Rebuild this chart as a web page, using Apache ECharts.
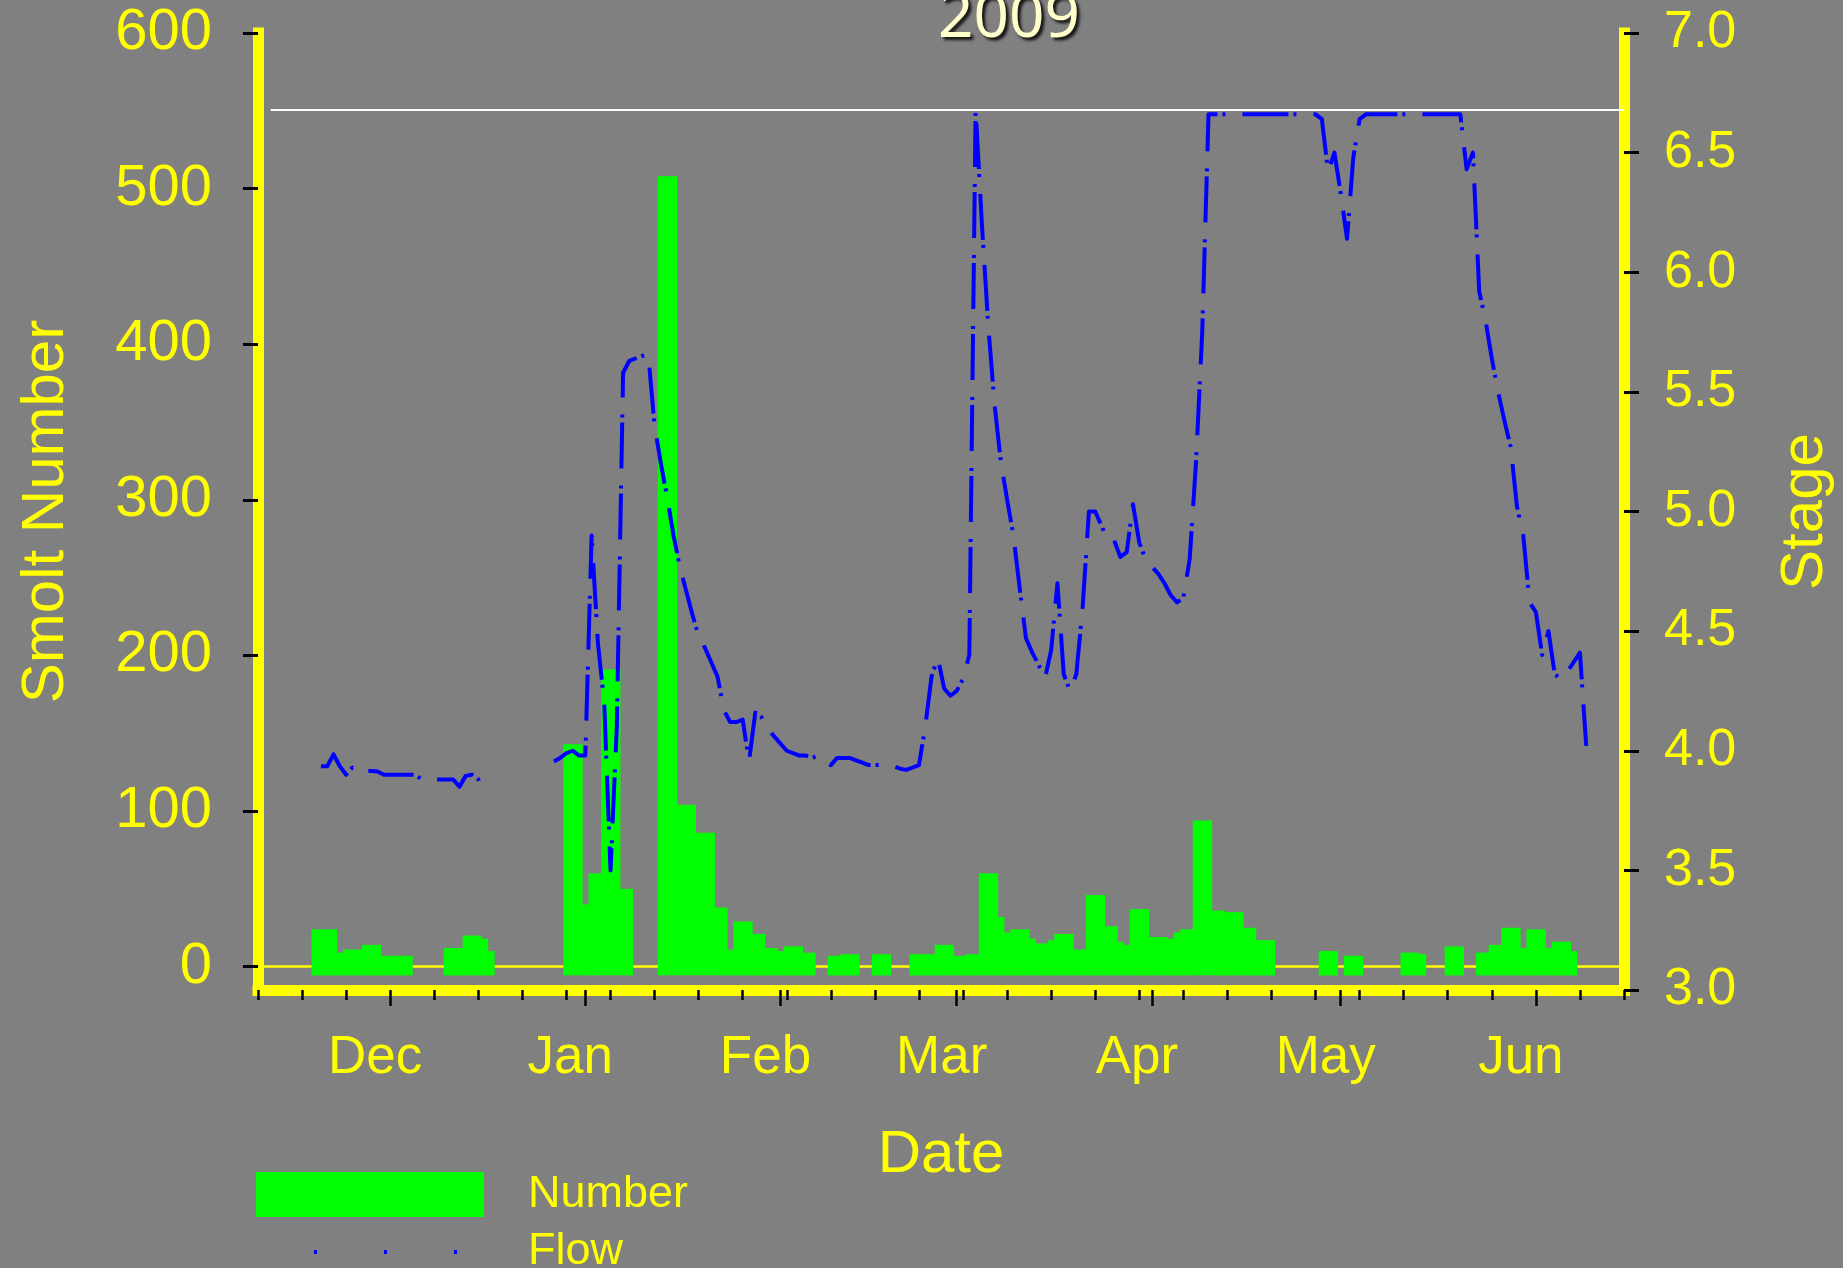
<!DOCTYPE html>
<html>
<head>
<meta charset="utf-8">
<script src="https://cdn.jsdelivr.net/npm/echarts@6/dist/echarts.min.js"></script>
<style>
html, body { margin: 0; padding: 0; background: #808080; }
#main { width: 1843px; height: 1268px; }
</style>
</head>
<body>
<div id="main"></div>
<script>
// x axis runs in days, day 0 = 10 Nov 2008, 31 weeks long
var seasonStart = Date.UTC(2008, 10, 10);
var axisDays = 217;
var monthNames = ['Dec', 'Jan', 'Feb', 'Mar', 'Apr', 'May', 'Jun'];
var numberTicks = [0, 100, 200, 300, 400, 500, 600];
var floodStage = 6.68;
var floodFrom = 2;
var barBase = -5.6;

// daily smolt counts, each array starts on the day noted
var countsNov = [24, 24, 24, 24, 9, 11, 11, 11, 14, 14, 14, 7];                 // from Nov 19
var countsDec = [7, 7, 7, 7, 0, 0, 0, 0, 0, 12, 12, 12, 20, 20, 20, 18, 10,
                 0, 0, 0, 0, 0, 0, 0, 0, 0, 0, 0, 143, 143, 143];                // from Dec 1
var countsJan = [40, 60, 60, 191, 191, 191, 50, 50, 0, 0, 0, 0, 508, 508, 508,
                 104, 104, 104, 86, 86, 86, 38, 38, 11, 29, 29, 29, 21, 21, 12, 12];
var countsFeb = [10, 13, 13, 13, 9, 9, 0, 0, 7, 7, 8, 8, 8, 0, 0, 8, 8, 8,
                 0, 0, 0, 8, 8, 8, 8, 14, 14, 14];
var countsMar = [7, 7, 8, 8, 60, 60, 60, 32, 22, 24, 24, 24, 18, 15, 15, 17,
                 21, 21, 21, 11, 11, 46, 46, 46, 26, 26, 16, 14, 37, 37, 37];
var countsApr = [19, 19, 19, 18, 22, 24, 24, 94, 94, 94, 36, 36, 35, 35, 35,
                 25, 25, 17, 17, 17, 0, 0, 0, 0, 0, 0, 0, 10, 10, 10];
var countsMay = [0, 7, 7, 7, 0, 0, 0, 0, 0, 0, 9, 9, 9, 8, 0, 0, 0, 13, 13, 13,
                 0, 0, 9, 9, 14, 14, 25, 25, 25, 12, 24];
var countsJun = [24, 24, 12, 16, 16, 16, 10];

// daily river stage
var stageNov = [3.935, 3.935, 3.985, 3.935, 3.90, 3.93, 3.91, 3.915, 3.915, 3.913, 3.90]; // from Nov 20
var stageDec = [3.90, 3.90, 3.90, 3.90, 3.90, 3.88, 3.88, 3.88, 3.88, 3.88, 3.88, 3.85,
                3.895, 3.90, 3.88, 3.81, null, null, null, null, null, null, null, null,
                null, null, 3.955, 3.97, 3.99, 4.00, 3.98];
var stageJan = [3.98, 4.90, 4.45, 4.20, 3.50, 4.10, 5.58, 5.63, 5.64, 5.65, 5.655, 5.36,
                5.20, 5.06, 4.90, 4.77, 4.67, 4.57, 4.48, 4.43, 4.37, 4.31, 4.17, 4.12,
                4.12, 4.13, 3.955, 4.16, 4.14, 4.09, 4.06];
var stageFeb = [4.03, 4.00, 3.99, 3.98, 3.98, 3.97, 3.98, 3.96, 3.94, 3.97, 3.97, 3.97,
                3.96, 3.95, 3.94, 3.94, 3.94, 3.94, 3.935, 3.925, 3.92, 3.93, 3.94, 4.10,
                4.31, 4.39, 4.26, 4.23];
var stageMar = [4.25, 4.30, 4.40, 6.68, 6.20, 5.78, 5.45, 5.21, 5.05, 4.90, 4.68, 4.47,
                4.41, 4.36, 4.30, 4.42, 4.70, 4.32, 4.25, 4.32, 4.60, 5.00, 5.00, 4.94,
                4.88, 4.88, 4.81, 4.83, 5.03, 4.87, 4.80];
var stageApr = [4.77, 4.74, 4.70, 4.65, 4.62, 4.64, 4.80, 5.20, 5.75, 6.66, 6.66, 6.66,
                6.66, 6.66, 6.66, 6.66, 6.66, 6.66, 6.66, 6.66, 6.66, 6.66, 6.66, 6.66,
                6.66, 6.66, 6.66, 6.64, 6.42, 6.50];
var stageMay = [6.33, 6.14, 6.48, 6.64, 6.66, 6.66, 6.66, 6.66, 6.66, 6.66, 6.66, 6.66,
                6.66, 6.66, 6.66, 6.66, 6.66, 6.66, 6.66, 6.66, 6.43, 6.50, 5.92, 5.80,
                5.64, 5.50, 5.38, 5.27, 5.02, 4.90, 4.62];
var stageJun = [4.58, 4.40, 4.50, 4.32, 4.30, 4.33, 4.37, 4.41, 4.02];

function dayIndex(y, m, d) {
    return Math.round((Date.UTC(y, m, d) - seasonStart) / 864e5);
}
function daily(y, m, first, values) {
    return values.map(function (v, i) { return [dayIndex(y, m, first + i), v]; });
}

var counts = [].concat(
    daily(2008, 10, 19, countsNov), daily(2008, 11, 1, countsDec),
    daily(2009, 0, 1, countsJan), daily(2009, 1, 1, countsFeb),
    daily(2009, 2, 1, countsMar), daily(2009, 3, 1, countsApr),
    daily(2009, 4, 1, countsMay), daily(2009, 5, 1, countsJun)
).filter(function (p) { return p[1] > 0; });

var stage = [].concat(
    daily(2008, 10, 20, stageNov), daily(2008, 11, 1, stageDec),
    daily(2009, 0, 1, stageJan), daily(2009, 1, 1, stageFeb),
    daily(2009, 2, 1, stageMar), daily(2009, 3, 1, stageApr),
    daily(2009, 4, 1, stageMay), daily(2009, 5, 1, stageJun)
).map(function (p) { return [p[0], p[1] == null ? '-' : p[1]]; });

var monthStarts = [dayIndex(2008, 11, 1), dayIndex(2009, 0, 1), dayIndex(2009, 1, 1),
    dayIndex(2009, 2, 1), dayIndex(2009, 3, 1), dayIndex(2009, 4, 1), dayIndex(2009, 5, 1)];

var yellow = '#ffff00';
var font = 'Liberation Sans, Arial, sans-serif';

var myChart = echarts.init(document.getElementById('main'));

var option = {
    backgroundColor: '#808080',
    animation: false,
    title: {
        text: '2009',
        left: 933,
        top: -17,
        textStyle: {
            color: '#ffffcc', fontSize: 62, fontWeight: 'normal', fontFamily: 'Noto Sans',
            textShadowColor: 'rgba(0,0,0,0.85)', textShadowBlur: 3,
            textShadowOffsetX: 3, textShadowOffsetY: 3
        }
    },
    legend: {
        orient: 'vertical',
        left: 254, top: 1172, height: 200, padding: 0,
        itemWidth: 228, itemHeight: 45, itemGap: 12.5,
        textStyle: { color: yellow, fontSize: 45, fontFamily: font, padding: [0, 0, 0, 39] },
        data: [
            { name: 'Number', icon: 'rect', itemStyle: { color: '#00ff00' } },
            {
                name: 'Flow',
                itemStyle: { color: 'rgba(0,0,0,0)', borderWidth: 0 },
                lineStyle: { color: '#0000ff', width: 4, type: [3, 67], dashOffset: 12 }
            }
        ]
    },
    grid: { left: 258, right: 218, top: 33, bottom: 278 },
    xAxis: [
        {
            type: 'value', min: 0, max: axisDays, interval: 7, position: 'bottom',
            axisLine: { show: true, onZero: false, lineStyle: { color: yellow, width: 11, cap: 'square' } },
            axisTick: { show: true, length: 10, lineStyle: { color: '#000', width: 2.5 } },
            axisLabel: { show: false },
            splitLine: { show: false },
            name: 'Date', nameLocation: 'middle', nameGap: 135,
            nameTextStyle: { color: yellow, fontSize: 60, fontFamily: font }
        },
        {
            type: 'value', min: 0, max: axisDays, position: 'bottom',
            axisLine: { show: false, onZero: false },
            axisTick: { show: true, length: 16, customValues: monthStarts, lineStyle: { color: '#000', width: 2.5 } },
            axisLabel: {
                show: true, customValues: monthStarts, margin: 42, padding: [0, 30, 0, 0],
                color: yellow, fontSize: 53, fontFamily: font,
                formatter: function (v) { return monthNames[monthStarts.indexOf(v)]; }
            },
            splitLine: { show: false }
        },
        {
            type: 'value', min: 0, max: axisDays, position: 'bottom',
            axisLine: { show: true, onZero: true, onZeroAxisIndex: 0, lineStyle: { color: yellow, width: 2.7 } },
            axisTick: { show: false },
            axisLabel: { show: false },
            splitLine: { show: false }
        }
    ],
    yAxis: [
        {
            type: 'value', min: -15, max: 600, position: 'left',
            axisLine: { show: true, onZero: false, lineStyle: { color: yellow, width: 11, cap: 'square' } },
            axisTick: { show: true, length: 15, customValues: numberTicks, lineStyle: { color: '#000', width: 3 } },
            axisLabel: { customValues: numberTicks, color: yellow, fontSize: 58, fontFamily: font, margin: 46 },
            splitLine: { show: false },
            name: 'Smolt Number', nameLocation: 'middle', nameGap: 182,
            nameTextStyle: { color: yellow, fontSize: 60, fontFamily: font }
        },
        {
            type: 'value', min: 3, max: 7, interval: 0.5, position: 'right',
            axisLine: { show: true, onZero: false, lineStyle: { color: yellow, width: 11, cap: 'square' } },
            axisTick: { show: true, length: 15, lineStyle: { color: '#000', width: 3 } },
            axisLabel: {
                color: yellow, fontSize: 52, fontFamily: font, margin: 40,
                formatter: function (v) { return v.toFixed(1); }
            },
            splitLine: { show: false },
            name: 'Stage', nameLocation: 'middle', nameGap: 151,
            nameTextStyle: { color: yellow, fontSize: 60, fontFamily: font }
        }
    ],
    series: [
        {
            name: 'Number',
            type: 'custom',
            xAxisIndex: 0, yAxisIndex: 0,
            itemStyle: { color: '#00ff00' },
            encode: { x: 0, y: 1 },
            data: counts,
            renderItem: function (params, api) {
                var d = api.value(0);
                var top = api.coord([d - 0.5, api.value(1)]);
                var bottom = api.coord([d + 0.5, barBase]);
                return {
                    type: 'rect',
                    shape: { x: top[0], y: top[1], width: bottom[0] - top[0] + 0.5, height: bottom[1] - top[1] },
                    style: { fill: '#00ff00' }
                };
            }
        },
        {
            name: 'Flow',
            type: 'line',
            xAxisIndex: 0, yAxisIndex: 1,
            symbol: 'none', showSymbol: false,
            connectNulls: false,
            lineStyle: { color: '#0000ff', width: 4, type: [46, 5, 3, 17], join: 'round' },
            itemStyle: { color: '#0000ff' },
            data: stage,
            markLine: {
                silent: true, symbol: 'none',
                label: { show: false },
                lineStyle: { color: '#ffffff', width: 2, type: 'solid' },
                data: [[{ coord: [floodFrom, floodStage] }, { coord: [axisDays, floodStage] }]]
            }
        }
    ]
};

myChart.setOption(option);
</script>
</body>
</html>
